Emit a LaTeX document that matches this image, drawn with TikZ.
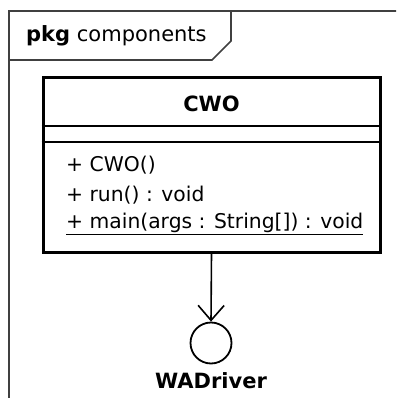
\documentclass[tikz,border=0pt]{standalone}
\usepackage{fontspec}
\setmainfont{DejaVu Sans}
\usetikzlibrary{arrows.meta}
\begin{document}
\begin{tikzpicture}[x=1pt, y=-1pt, >={Straight Barb[length=15pt,width=26pt]}, font=\fontsize{20.3}{24}\selectfont]
      \tikzset{frame/.style={draw=black!75, line width=1.6pt},
        classbox/.style={draw, line width=3pt, minimum width=337pt, minimum height=174pt, inner sep=0pt},
        member/.style={anchor=west, inner sep=0pt},
        title/.style={font=\fontsize{21}{24}\selectfont\bfseries},
        lollipop/.style={draw, circle, line width=1.8pt, minimum size=41pt, inner sep=0pt}}
      \useasboundingbox (0,0) rectangle (396,398);
      \clip (0,0) rectangle (396,398);
      % package frame
      \draw[frame] (9,420) -- (9,11) -- (420,11);
      \draw[frame] (9,60) -- (212,60) -- (231,41) -- (231,11);
      \node[anchor=west, inner sep=0pt, font=\fontsize{21}{24}\selectfont] (pkg) at (26,36) {\textbf{pkg} components};
      % class
      \node[classbox] (cwo) at (211.5,165) {};
      \node[title] (name) at (211.5,104) {CWO};
      \draw[line width=1.6pt] (cwo.west |- 0,126) -- (cwo.east |- 0,126);
      \draw[line width=1.6pt] (cwo.west |- 0,142) -- (cwo.east |- 0,142);
      \node[member] (ctor) at (66,165) {+ CWO()};
      \node[member] (run) at (66,195) {+ run() : void};
      \node[member] (main) at (66,224) {\underline{+ main(args : String[]) : void}};
      % interface
      \node[lollipop] (iface) at (211,343) {};
      \node[title] (wad) at (211,381) {WADriver};
      \draw[->, line width=1.6pt] (cwo.south) -- (iface.north);
    \end{tikzpicture}
\end{document}
